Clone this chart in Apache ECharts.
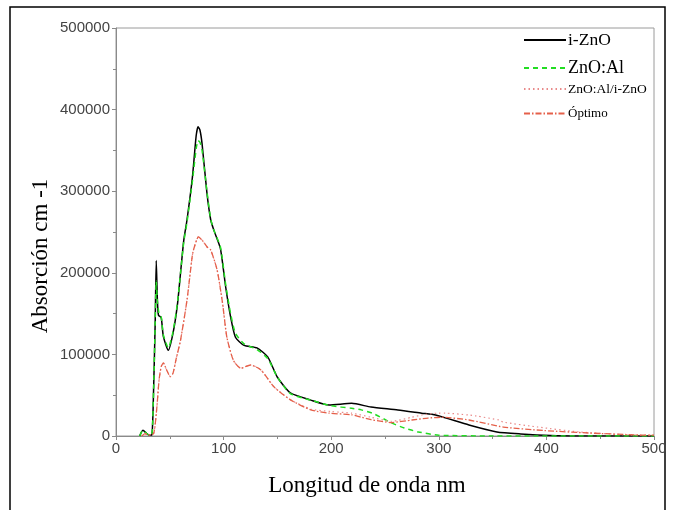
<!DOCTYPE html>
<html>
<head>
<meta charset="utf-8">
<script src="https://cdn.jsdelivr.net/npm/echarts@6/dist/echarts.min.js"></script>
<style>
  html, body { margin: 0; padding: 0; background: #fff; }
  #chart { width: 675px; height: 510px; }
</style>
</head>
<body>
<div id="chart"></div>
<script>
  // longitud de onda (nm) y absorción (cm-1)
  const izoX = [22, 25, 28.6, 31, 33.5, 35, 36.4, 37.4, 38.5, 39.5, 42, 44, 48.6, 53, 57, 60, 63, 66, 71, 74.5, 76.3, 78, 80, 84.5, 88, 91, 97, 102, 106.5, 111, 119, 131, 141, 150, 162, 181, 198, 219, 237, 262, 284, 297, 328, 354, 376, 404, 430, 500];
  const izoY = [0, 7000, 3000, 1000, 2000, 60000, 138000, 215000, 165000, 148000, 145000, 122000, 105000, 126000, 160000, 200000, 240000, 265000, 317000, 368000, 379000, 375000, 358000, 298000, 265000, 252000, 230000, 182000, 146000, 121000, 111000, 108000, 97000, 72000, 53000, 44000, 38000, 40000, 35500, 32000, 28000, 25700, 13500, 5000, 2500, 500, 0, 0];

  const azoX = [22, 25, 28.6, 31, 33.5, 35, 36.4, 37.4, 38.5, 40, 42, 44, 48.6, 53, 57, 60, 63, 66, 71, 74.5, 76.3, 78, 80, 84.5, 88, 91, 97, 102, 106.5, 111, 119, 131, 141, 150, 162, 181, 200, 219, 228, 240, 256, 268, 281, 300, 350, 500];
  const azoY = [0, 7000, 3000, 1000, 2000, 60000, 138000, 190000, 165000, 150000, 146000, 124000, 108000, 128000, 162000, 200000, 238000, 262000, 312000, 352000, 362000, 360000, 350000, 300000, 266000, 252000, 232000, 185000, 150000, 126000, 113000, 106000, 95000, 72000, 52000, 44000, 37000, 34000, 32000, 27000, 16000, 9800, 5000, 1000, 0, 0];

  const bicX = [24, 27, 30, 35, 38, 40, 42, 44, 47, 50.5, 53, 56, 60, 66, 70.7, 72, 76.6, 80, 84.7, 88, 94, 99, 103, 109, 116, 125, 134.6, 147, 162.6, 181, 200, 219, 237, 256, 275, 284, 300, 306, 328, 335, 356, 360, 392, 430, 471, 500];
  const bicY = [0, 3000, 1000, 3000, 35500, 68600, 85000, 89500, 81000, 72700, 77000, 95000, 117600, 166700, 219000, 228000, 244000, 240000, 231600, 228000, 203400, 163000, 121300, 93000, 83000, 87000, 81000, 60000, 44000, 33000, 30000, 28000, 23000, 18000, 23000, 25700, 28000, 28000, 25700, 24500, 19600, 17000, 11000, 5000, 1700, 1000];

  const optX = [24, 27, 30, 35, 38, 40, 42, 44, 47, 50.5, 53, 56, 60, 66, 70.7, 72, 76.6, 80, 84.7, 88, 94, 99, 103, 109, 116, 125, 134.6, 147, 162.6, 181, 198, 219, 228, 237, 256, 275, 290, 303, 328, 360, 398, 439, 486, 500];
  const optY = [0, 3000, 1000, 3000, 35500, 68600, 85000, 89500, 81000, 72700, 77000, 95000, 117600, 166700, 219000, 228000, 244000, 240000, 231600, 228000, 203400, 163000, 121300, 93000, 83000, 87000, 81000, 60000, 44000, 32000, 28000, 26000, 23000, 20000, 16500, 19600, 22000, 23000, 19600, 11000, 6700, 3700, 1200, 1000];

  const names = ['i-ZnO', 'ZnO:Al', 'ZnO:Al/i-ZnO', 'Óptimo'];
  const legendSizes = [17.5, 18, 13.5, 13];
  const legendTops = [31, 59, 82, 107];

  const pairs = (xs, ys) => xs.map((x, i) => [x, ys[i]]);

  const serif = '"Liberation Serif", "DejaVu Serif", serif';
  const sans = '"Liberation Sans", Arial, sans-serif';

  const makeLine = (name, data, color, width, type) => ({
    name: name,
    type: 'line',
    data: data,
    symbol: 'none',
    smooth: 0.2,
    lineStyle: { color: color, width: width, type: type },
    itemStyle: { color: color },
    z: 3,
  });

  const chart = echarts.init(document.getElementById('chart'), null, { renderer: 'canvas' });

  chart.setOption({
    animation: false,
    backgroundColor: '#fff',
    graphic: [
      {
        type: 'rect',
        shape: { x: 10, y: 7, width: 655, height: 520 },
        style: { fill: 'none', stroke: '#000', lineWidth: 1.5 },
        silent: true,
      },
      {
        type: 'text',
        x: 41, y: 256, rotation: Math.PI / 2,
        style: {
          text: 'Absorción cm -1', font: '23px ' + serif, fill: '#000',
          align: 'center', verticalAlign: 'middle',
        },
        silent: true,
      },
      {
        type: 'text',
        x: 367, y: 486,
        style: {
          text: 'Longitud de onda nm', font: '23px ' + serif, fill: '#000',
          align: 'center', verticalAlign: 'middle',
        },
        silent: true,
      },
    ],
    grid: {
      left: 116, right: 21, top: 28, bottom: 74,
      show: true, borderColor: '#9a9a9a', borderWidth: 1,
    },
    legend: names.map((n, i) => ({
      data: [{ name: n, textStyle: { fontSize: legendSizes[i] } }],
      left: 523,
      top: legendTops[i],
      padding: 0,
      itemWidth: 42,
      itemHeight: 12,
      itemStyle: { opacity: 0 },
      textStyle: { fontFamily: serif, color: '#000', padding: [0, 0, 0, -3] },
      selectedMode: false,
    })),
    xAxis: {
      type: 'value',
      min: 0, max: 500, interval: 100,
      axisLine: { show: true, lineStyle: { color: '#8a8a8a' } },
      axisTick: { show: true, length: 4, lineStyle: { color: '#8a8a8a' } },
      minorTick: { show: true, splitNumber: 2, length: 3, lineStyle: { color: '#8a8a8a' } },
      splitLine: { show: false },
      axisLabel: { fontFamily: sans, fontSize: 15, color: '#444', margin: 5 },
    },
    yAxis: {
      type: 'value',
      min: 0, max: 500000, interval: 100000,
      axisLine: { show: true, lineStyle: { color: '#8a8a8a' } },
      axisTick: { show: true, length: 4, lineStyle: { color: '#8a8a8a' } },
      minorTick: { show: true, splitNumber: 2, length: 3, lineStyle: { color: '#8a8a8a' } },
      splitLine: { show: false },
      axisLabel: {
        fontFamily: sans, fontSize: 15, color: '#444', margin: 6,
        formatter: (v) => String(v),
      },
    },
    series: [
      makeLine(names[0], pairs(izoX, izoY), '#000000', 1.5, 'solid'),
      makeLine(names[1], pairs(azoX, azoY), '#22dd22', 1.5, [5, 4]),
      makeLine(names[2], pairs(bicX, bicY), '#e98a8a', 1.2, [1.5, 3]),
      makeLine(names[3], pairs(optX, optY), '#e5604a', 1.3, [6, 2, 1.5, 2]),
    ],
  });
</script>
</body>
</html>
